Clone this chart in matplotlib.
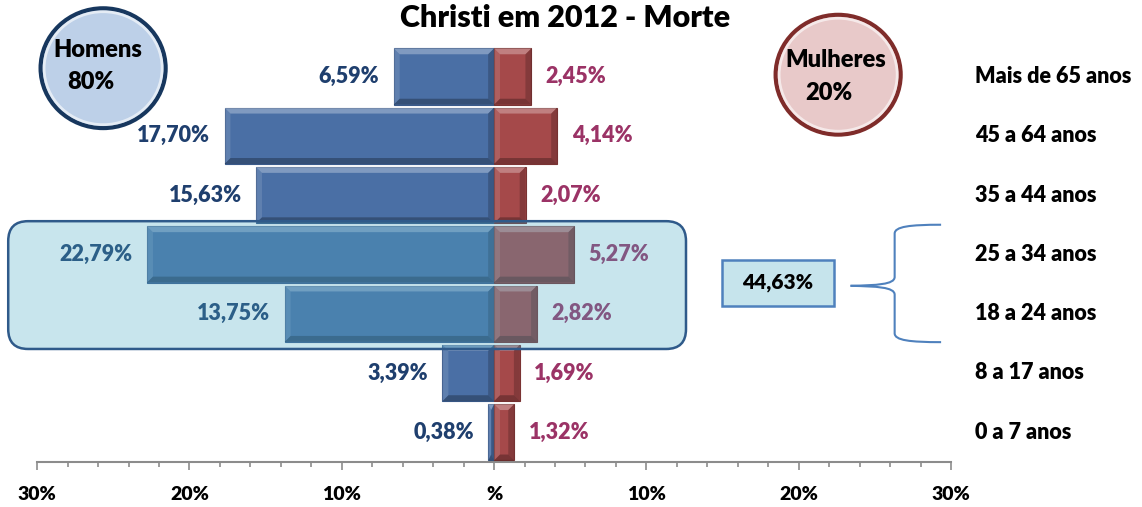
import numpy as np
import matplotlib
matplotlib.use('Agg')
import matplotlib.pyplot as plt
from matplotlib.patches import Ellipse, FancyBboxPatch, Rectangle, PathPatch, Polygon
from matplotlib.path import Path
from matplotlib.colors import to_rgba

plt.rcParams['font.family'] = ['Lato', 'DejaVu Sans']
plt.rcParams['font.weight'] = 'heavy'

# Dados (percentual de mortes por faixa etaria)
faixas = ['0 a 7 anos', '8 a 17 anos', '18 a 24 anos', '25 a 34 anos',
          '35 a 44 anos', '45 a 64 anos', 'Mais de 65 anos']
homens = [0.38, 3.39, 13.75, 22.79, 15.63, 17.70, 6.59]
mulheres = [1.32, 1.69, 2.82, 5.27, 2.07, 4.14, 2.45]
total_homens = 80
total_mulheres = 20
destaque = [2, 3]  # 18 a 24 e 25 a 34 anos
total_destaque = 44.63
xticks = [-30, -20, -10, 0, 10, 20, 30]
xtick_labels = ['30%', '20%', '10%', '%', '10%', '20%', '30%']

azul = '#4A6FA5'
vermelho = '#A5494A'
txt_azul = '#1F3F6E'
txt_verm = '#9B3366'
altura = 0.95


def fmt(v):
    return f'{v:.2f}'.replace('.', ',') + '%'


def chanfro(ax, x0, x1, yc):
    # efeito de bisel tipo Excel
    y0, y1 = yc - altura / 2, yc + altura / 2
    bx = min(0.39, (x1 - x0) / 2)
    by = min(0.10, (y1 - y0) / 2)
    lados = [
        ([(x0, y1), (x1, y1), (x1 - bx, y1 - by), (x0 + bx, y1 - by)], (1, 1, 1, 0.3)),
        ([(x0, y0), (x0, y1), (x0 + bx, y1 - by), (x0 + bx, y0 + by)], (1, 1, 1, 0.12)),
        ([(x0, y0), (x1, y0), (x1 - bx, y0 + by), (x0 + bx, y0 + by)], (0, 0, 0, 0.28)),
        ([(x1, y0), (x1, y1), (x1 - bx, y1 - by), (x1 - bx, y0 + by)], (0, 0, 0, 0.2)),
    ]
    for pts, c in lados:
        ax.add_patch(Polygon(pts, closed=True, facecolor=c, edgecolor='none', zorder=2.5))


fig = plt.figure(figsize=(11.42, 5.07), dpi=100)
ax = fig.add_axes([0, 0, 1, 1])
ax.set_xlim(-32.44, 42.54)
ax.set_ylim(-1.26, 7.29)

y = np.arange(len(faixas))
ax.barh(y, -np.array(homens), height=altura, color=azul, edgecolor='#3A5A8A', linewidth=0.8, zorder=2)
ax.barh(y, mulheres, height=altura, color=vermelho, edgecolor='#7A3333', linewidth=0.8, zorder=2)

for i in range(len(faixas)):
    chanfro(ax, -homens[i], 0, y[i])
    chanfro(ax, 0, mulheres[i], y[i])
    ax.text(-homens[i] - 0.95, y[i], fmt(homens[i]), ha='right', va='center',
            fontsize=15.5, color=txt_azul, zorder=3)
    ax.text(mulheres[i] + 0.95, y[i], fmt(mulheres[i]), ha='left', va='center',
            fontsize=15.5, color=txt_verm, zorder=3)
    ax.text(31.6, y[i], faixas[i], ha='left', va='center', fontsize=15.5, color='black')

# caixa de destaque sobre as faixas 18-34
y0 = min(destaque) - 0.595
y1 = max(destaque) + 0.56
box = FancyBboxPatch((-31.9, y0), 12.6 + 31.9, y1 - y0,
                     boxstyle='round,pad=0,rounding_size=1.3', mutation_aspect=15.23 / 59.3,
                     facecolor=to_rgba('#4BACC6', 0.3), edgecolor='#2F5A8A', linewidth=1.8, zorder=4)
ax.add_patch(box)

ax.add_patch(Rectangle((14.97, 2.13), 22.32 - 14.97, 2.906 - 2.13,
                       facecolor='#C6E4EC', edgecolor='#4F81BD', linewidth=1.8, zorder=4))
ax.text((14.97 + 22.32) / 2, (2.13 + 2.906) / 2, fmt(total_destaque), ha='center', va='center',
        fontsize=15, color='black', zorder=5)

# chave
xt, xs, xe = 23.4, 26.3, 29.35
ym = (min(destaque) + max(destaque)) / 2 - 0.03
yt, yb = max(destaque) + 0.5, min(destaque) - 0.48
codes = [Path.MOVETO, Path.CURVE4, Path.CURVE4, Path.CURVE4, Path.LINETO,
         Path.CURVE4, Path.CURVE4, Path.CURVE4]
for s, yend in [(1, yt), (-1, yb)]:
    verts = [(xt, ym), (xs - 1.2, ym + s * 0.01), (xs, ym + s * 0.02), (xs, ym + s * 0.15),
             (xs, yend - s * 0.15),
             (xs, yend - s * 0.03), (xs + 1.0, yend), (xe, yend)]
    ax.add_patch(PathPatch(Path(verts, codes), fill=False, edgecolor='#4F81BD', linewidth=1.5))

# circulos
ax.add_patch(Ellipse((-25.67, 6.14), 8.21, 2.02, facecolor='#BDD0E8', edgecolor='#17375E',
                     linewidth=3, zorder=3))
ax.add_patch(Ellipse((-25.67, 6.14), 7.75, 1.905, facecolor='none', edgecolor=(1, 1, 1, 0.6),
                     linewidth=2, zorder=3))
ax.text(-26.0, 6.44, 'Homens', ha='center', va='center', fontsize=17, color='black', zorder=4)
ax.text(-26.5, 5.91, f'{total_homens}%', ha='center', va='center', fontsize=17, color='black', zorder=4)
ax.add_patch(Ellipse((22.59, 6.03), 8.21, 2.02, facecolor='#E8C9C9', edgecolor='#7F2C2A',
                     linewidth=3, zorder=3))
ax.add_patch(Ellipse((22.59, 6.03), 7.75, 1.905, facecolor='none', edgecolor=(1, 1, 1, 0.6),
                     linewidth=2, zorder=3))
ax.text(22.46, 6.28, 'Mulheres', ha='center', va='center', fontsize=17, color='black', zorder=4)
ax.text(21.95, 5.72, f'{total_mulheres}%', ha='center', va='center', fontsize=17, color='black', zorder=4)

fig.text(565 / 1142, 1 - 18 / 507, 'Christi em 2012 - Morte', ha='center', va='center',
         fontsize=22, color='black')

# eixo
for s in ['top', 'right', 'left']:
    ax.spines[s].set_visible(False)
ax.spines['bottom'].set_position(('data', -0.5))
ax.spines['bottom'].set_bounds(-30, 30)
ax.spines['bottom'].set_color('#8C8C8C')
ax.spines['bottom'].set_linewidth(1.5)
ax.spines['bottom'].set_zorder(1)
ax.set_xticks(xticks)
ax.set_xticklabels(xtick_labels)
ax.set_xticks(np.arange(-30, 31, 2), minor=True)
ax.tick_params(axis='x', which='major', length=6, width=1.2, color='#8C8C8C', pad=11, labelsize=14)
ax.tick_params(axis='x', which='minor', length=3.6, width=1.2, color='#8C8C8C')
ax.set_yticks([])

fig.savefig('out.png', dpi=100)
